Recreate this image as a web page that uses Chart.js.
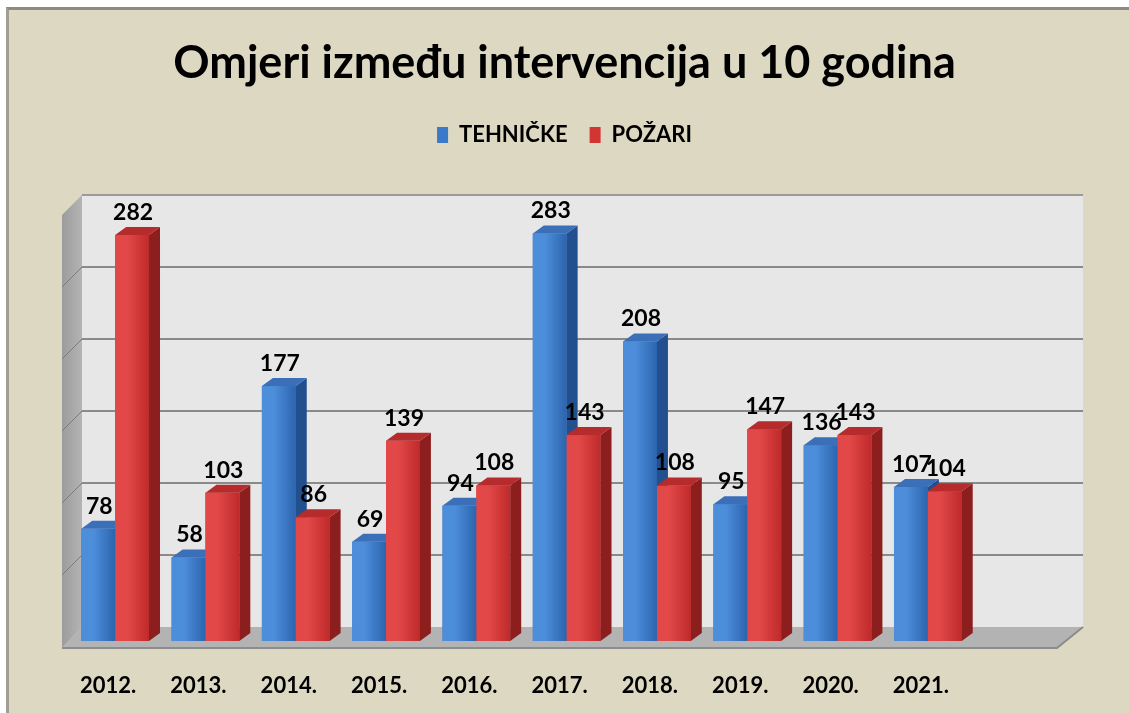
<!DOCTYPE html>
<html>
<head>
<meta charset="utf-8">
<script src="https://cdn.jsdelivr.net/npm/chart.js@4.4.0/dist/chart.umd.min.js"></script>
<style>
    body { margin: 0; background: #ffffff; }
    #frame {
        position: absolute; left: 6px; top: 7px; width: 1123px; height: 706px;
        background: #ddd8c2;
        border-top: 3px solid #8e8a82; border-left: 3px solid #a29e95;
        box-sizing: border-box;
    }
    #wrap { position: absolute; left: 0; top: 0; width: 1129px; height: 713px; }
</style>
</head>
<body>
<div id="frame"></div>
<div id="wrap"><canvas id="barGraph"></canvas></div>
<script>
const godine = ['2012.', '2013.', '2014.', '2015.', '2016.', '2017.', '2018.', '2019.', '2020.', '2021.'];
const tehnicke = [78, 58, 177, 69, 94, 283, 208, 95, 136, 107];
const pozari = [282, 103, 86, 139, 108, 143, 108, 147, 143, 104];
const gridVrijednosti = [50, 100, 150, 200, 250, 300];

// boje lica stupaca: prednje (lijevo, desno), bok, vrh
const boje = [
    { lijevo: '#4d8edb', desno: '#2c64ae', bok: '#22508f', vrh: '#3b70b8' },
    { lijevo: '#e24848', desno: '#c02a2a', bok: '#8c1e1e', vrh: '#b62b2b' }
];

const DX = 11, DY = -8;      // dubina stupca
const ZX = 20, ZY = -14;     // dubina zida

// zidovi, pod i mreza iza stupaca
const pozadina3d = {
    id: 'pozadina3d',
    beforeDatasetsDraw(chart) {
        let ctx = chart.ctx;
        let a = chart.chartArea;
        let y = chart.scales.y;
        let nula = y.getPixelForValue(0);
        let vrh = y.getPixelForValue(300);
        let lijevo = a.left - 8;
        let desno = a.right + 90;
        ctx.save();
        // stražnji zid
        ctx.fillStyle = '#e7e7e7';
        ctx.fillRect(lijevo + ZX, vrh + ZY, desno - lijevo, nula - vrh);
        ctx.strokeStyle = '#9a9a9a';
        ctx.lineWidth = 2;
        ctx.beginPath();
        ctx.moveTo(lijevo + ZX, vrh + ZY);
        ctx.lineTo(desno + ZX, vrh + ZY);
        ctx.stroke();
        // lijevi zid
        let g = ctx.createLinearGradient(lijevo, 0, lijevo + ZX, 0);
        g.addColorStop(0, '#9c9c9c');
        g.addColorStop(1, '#b4b4b4');
        ctx.fillStyle = g;
        ctx.beginPath();
        ctx.moveTo(lijevo, vrh + 6);
        ctx.lineTo(lijevo + ZX, vrh + ZY);
        ctx.lineTo(lijevo + ZX, nula + ZY);
        ctx.lineTo(lijevo, nula + 7);
        ctx.closePath();
        ctx.fill();
        // mreza
        gridVrijednosti.slice(0, -1).forEach(function(v) {
            let p = y.getPixelForValue(v);
            ctx.strokeStyle = '#8a8a8a';
            ctx.lineWidth = 2;
            ctx.beginPath();
            ctx.moveTo(lijevo + ZX, p + ZY);
            ctx.lineTo(desno + ZX, p + ZY);
            ctx.stroke();
            ctx.strokeStyle = '#7a7a7a';
            ctx.lineWidth = 1;
            ctx.beginPath();
            ctx.moveTo(lijevo, p + 6);
            ctx.lineTo(lijevo + ZX, p + ZY);
            ctx.stroke();
        });
        // pod
        ctx.fillStyle = '#b3b3b3';
        ctx.beginPath();
        ctx.moveTo(lijevo, nula + 7);
        ctx.lineTo(lijevo + ZX, nula + ZY);
        ctx.lineTo(desno + ZX, nula + ZY);
        ctx.lineTo(desno - 6, nula + 7);
        ctx.closePath();
        ctx.fill();
        ctx.strokeStyle = '#8c8c8c';
        ctx.lineWidth = 2;
        ctx.beginPath();
        ctx.moveTo(lijevo, nula + 7);
        ctx.lineTo(desno - 6, nula + 7);
        ctx.lineTo(desno + ZX, nula + ZY);
        ctx.stroke();
        ctx.restore();
    }
};

// 3D stupci i vrijednosti iznad njih
const stupci3d = {
    id: 'stupci3d',
    afterDatasetsDraw(chart) {
        let ctx = chart.ctx;
        let meta = [chart.getDatasetMeta(0), chart.getDatasetMeta(1)];
        ctx.save();
        for (let i = 0; i < godine.length; i++) {
            for (let d = 0; d < 2; d++) {
                let bar = meta[d].data[i];
                let b = boje[d];
                let x0 = bar.x - bar.width / 2;
                let x1 = bar.x + bar.width / 2;
                let y0 = bar.y;
                let y1 = bar.base;
                let g = ctx.createLinearGradient(x0, 0, x1, 0);
                g.addColorStop(0, b.lijevo);
                g.addColorStop(0.35, b.lijevo);
                g.addColorStop(1, b.desno);
                ctx.fillStyle = g;
                ctx.fillRect(x0, y0, x1 - x0, y1 - y0);
                // bok
                ctx.fillStyle = b.bok;
                ctx.beginPath();
                ctx.moveTo(x1, y0);
                ctx.lineTo(x1 + DX, y0 + DY);
                ctx.lineTo(x1 + DX, y1 + DY);
                ctx.lineTo(x1, y1);
                ctx.closePath();
                ctx.fill();
                // vrh
                ctx.fillStyle = b.vrh;
                ctx.beginPath();
                ctx.moveTo(x0, y0);
                ctx.lineTo(x0 + DX, y0 + DY);
                ctx.lineTo(x1 + DX, y0 + DY);
                ctx.lineTo(x1, y0);
                ctx.closePath();
                ctx.fill();
            }
        }
        ctx.fillStyle = '#000000';
        ctx.font = 'bold 23px Lato';
        ctx.textAlign = 'center';
        ctx.textBaseline = 'alphabetic';
        for (let d = 0; d < 2; d++) {
            let vrijednosti = chart.data.datasets[d].data;
            meta[d].data.forEach(function(bar, i) {
                ctx.fillText(vrijednosti[i], bar.x + 1, bar.y - 15);
            });
        }
        ctx.restore();
    }
};

let ctx = document.getElementById('barGraph').getContext('2d');
new Chart(ctx, {
    type: 'bar',
    data: {
        labels: godine,
        datasets: [
            { label: 'TEHNIČKE', data: tehnicke, backgroundColor: '#3a7ac8' },
            { label: 'POŽARI', data: pozari, backgroundColor: '#d33434' }
        ]
    },
    options: {
        responsive: true,
        maintainAspectRatio: false,
        animation: false,
        layout: { padding: 0 },
        datasets: { bar: { barPercentage: 1, categoryPercentage: 0.75 } },
        scales: {
            x: {
                grid: { display: false, drawTicks: false },
                border: { display: false },
                ticks: { color: '#000000', font: { family: 'Lato', size: 22, weight: 'bold' }, padding: 32, labelOffset: -7 },
                afterFit(scale) { scale.height = 72; }
            },
            y: {
                display: true,
                min: 0,
                max: 300,
                grid: { display: false },
                border: { display: false },
                ticks: { display: false },
                afterFit(scale) { scale.width = 70; }
            },
            desno: {
                type: 'linear',
                position: 'right',
                display: true,
                grid: { display: false },
                border: { display: false },
                ticks: { display: false },
                afterFit(scale) { scale.width = 156; }
            }
        },
        plugins: {
            title: {
                display: true,
                text: 'Omjeri između intervencija u 10 godina',
                color: '#000000',
                font: { family: 'Lato', size: 45, weight: 'bold' },
                padding: { top: 36, bottom: 12 }
            },
            legend: {
                display: true,
                labels: {
                    color: '#000000',
                    font: { family: 'Lato', size: 22, weight: 'bold' },
                    boxWidth: 11,
                    boxHeight: 16,
                    padding: 22
                }
            },
            subtitle: {
                display: true,
                text: '',
                weight: 500,
                font: { size: 10 },
                padding: { top: 0, bottom: 41 }
            },
            tooltip: { enabled: false }
        }
    },
    plugins: [pozadina3d, stupci3d]
});
</script>
</body>
</html>
